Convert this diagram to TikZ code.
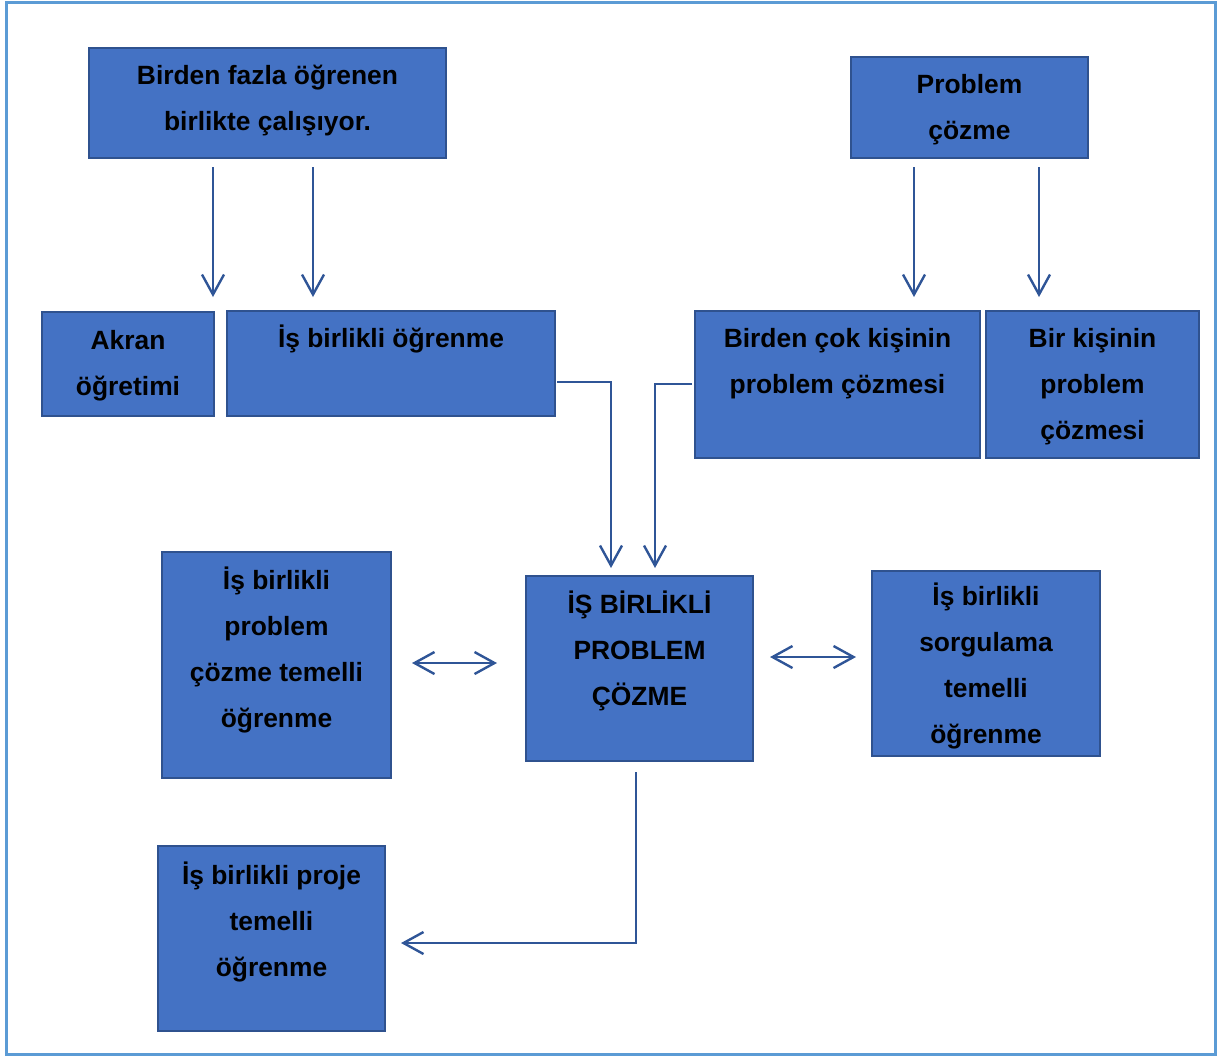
\documentclass[tikz,border=0pt]{standalone}
\usepackage{fontspec}
\setmainfont{Liberation Sans}
\definecolor{BoxFill}{RGB}{68,114,196}
\definecolor{BoxLine}{RGB}{47,82,143}
\definecolor{LinkBlue}{RGB}{47,85,151}
\definecolor{FrameBlue}{RGB}{91,155,213}
\usetikzlibrary{
    arrows.meta,
    calc,
}
\begin{document}
\begin{tikzpicture}[x=0.5pt, y=-0.5pt,
        box/.style={rectangle, draw=BoxLine, fill=BoxFill, line width=1.4pt, inner sep=0pt, outer sep=0pt, align=center,
            font=\fontsize{13.2}{23}\selectfont\bfseries},
        lift/.style={text depth=#1},
        link/.style={draw=LinkBlue, line width=1.2pt, -{Straight Barb[length=10pt, width=11pt]}},
        both/.style={link, {Straight Barb[length=10pt, width=11pt]}-{Straight Barb[length=10pt, width=11pt]}}]
        \useasboundingbox (0,0) rectangle (1219,1057);
        \draw[FrameBlue, line width=1.5pt] (6,2) rectangle (1215,1054);

        % top row
        \node[box, lift=5.5pt, minimum width=178.5pt, minimum height=55pt] (group) at (267.5,103) {Birden fazla öğrenen\\birlikte çalışıyor.};
        \node[box, lift=0.8pt, minimum width=118.5pt, minimum height=50.5pt] (solve) at (969.5,107.5) {Problem\\çözme};

        % second row
        \node[box, lift=0.8pt, minimum width=86pt, minimum height=52pt] (peer) at (128,364) {Akran\\öğretimi};
        \node[box, lift=27.5pt, minimum width=164pt, minimum height=52.5pt] (coop) at (391,363.5) {İş birlikli öğrenme};
        \node[box, lift=23.5pt, minimum width=142.5pt, minimum height=73.5pt] (many) at (837.5,384.5) {Birden çok kişinin\\problem çözmesi};
        \node[box, lift=0.8pt, minimum width=106.5pt, minimum height=73.5pt] (single) at (1092.5,384.5) {Bir kişinin\\problem\\çözmesi};

        % middle row
        \node[box, lift=20.5pt, minimum width=113.5pt, minimum height=92.5pt] (cps) at (639.5,668.5) {İŞ BİRLİKLİ\\PROBLEM\\ÇÖZME};
        \node[box, lift=17.5pt, minimum width=114.5pt, minimum height=113pt] (pbl) at (276.5,665) {İş birlikli\\problem\\çözme temelli\\öğrenme};
        \node[box, lift=-3.3pt, minimum width=114pt, minimum height=92.5pt] (inquiry) at (986,663.5) {İş birlikli\\sorgulama\\temelli\\öğrenme};

        % bottom
        \node[box, lift=19.5pt, minimum width=113.5pt, minimum height=92.5pt] (project) at (271.5,938.5) {İş birlikli proje\\temelli\\öğrenme};

        % connectors
        \draw[link] ($(group.south west)+(124,9)$) -- ($(peer.north east)+(-1,-15)$);
        \draw[link] ($(group.south west)+(224,9)$) -- ($(coop.north west)+(86,-14)$);
        \draw[link] ($(solve.south west)+(63,9)$) -- ($(many.north west)+(219,-14)$);
        \draw[link] ($(solve.south west)+(188,9)$) -- ($(single.north west)+(53,-14)$);
        \draw[link] ($(coop.east)+(2,18.5)$) -| ($(cps.north)+(-28.5,-8)$);
        \draw[link] ($(many.west)+(-3,-0.5)$) -| ($(cps.north)+(15.5,-8)$);
        \draw[both] ($(pbl.east)+(21,-2)$) -- ($(cps.west)+(-29,-5.5)$);
        \draw[both] ($(cps.east)+(17,-11.5)$) -- ($(inquiry.west)+(-16,-6.5)$);
        \draw[link] ($(cps.south)+(-3.5,11)$) |- ($(project.east)+(16,4.5)$);
    \end{tikzpicture}
\end{document}
